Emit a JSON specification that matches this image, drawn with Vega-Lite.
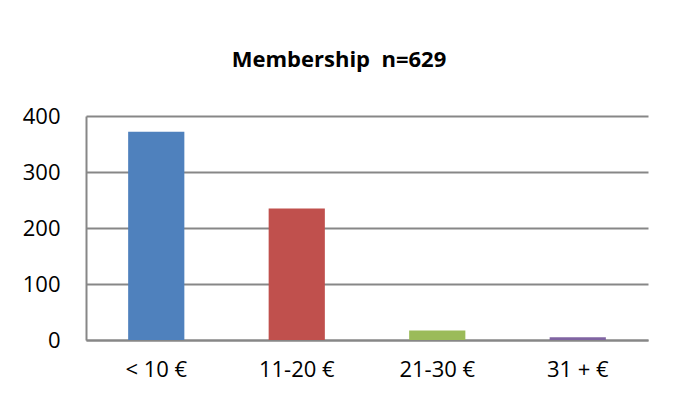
{
  "$schema": "https://vega.github.io/schema/vega-lite/v6.json",
  "autosize": {"type": "none"},
  "width": 562,
  "height": 224,
  "padding": {"left": 86, "top": 116, "right": 28, "bottom": 67},
  "background": "white",
  "config": {
    "view": {"stroke": null},
    "font": "Open Sans"
  },
  "title": {
    "text": "Membership\u00a0\u00a0n=629",
    "font": "Open Sans",
    "fontSize": 22,
    "fontWeight": "bold",
    "color": "#000000",
    "anchor": "middle",
    "baseline": "alphabetic",
    "offset": 16,
    "dx": -28
  },
  "data": {
    "values": [
      {"category": "< 10 €", "count": 372},
      {"category": "11-20 €", "count": 235},
      {"category": "21-30 €", "count": 17},
      {"category": "31 + €", "count": 5}
    ]
  },
  "mark": {"type": "bar"},
  "encoding": {
    "x": {
      "field": "category",
      "type": "nominal",
      "sort": null,
      "scale": {"paddingInner": 0.6, "paddingOuter": 0.3},
      "axis": {
        "title": null,
        "labelAngle": 0,
        "labelFont": "Open Sans",
        "labelFontSize": 22,
        "labelColor": "#000000",
        "labelPadding": 19,
        "ticks": false,
        "domainColor": "#878787",
        "domainWidth": 2,
        "grid": false
      }
    },
    "y": {
      "field": "count",
      "type": "quantitative",
      "scale": {"domain": [0, 400], "nice": false},
      "axis": {
        "title": null,
        "values": [0, 100, 200, 300, 400],
        "labelFont": "Open Sans",
        "labelFontSize": 22,
        "labelColor": "#000000",
        "labelPadding": 26,
        "ticks": false,
        "domainColor": "#878787",
        "domainWidth": 2,
        "grid": true,
        "gridColor": "#878787",
        "gridWidth": 2
      }
    },
    "color": {
      "field": "category",
      "type": "nominal",
      "sort": null,
      "scale": {"range": ["#4F81BD", "#C0504D", "#9BBB59", "#8064A2"]},
      "legend": null
    }
  }
}
